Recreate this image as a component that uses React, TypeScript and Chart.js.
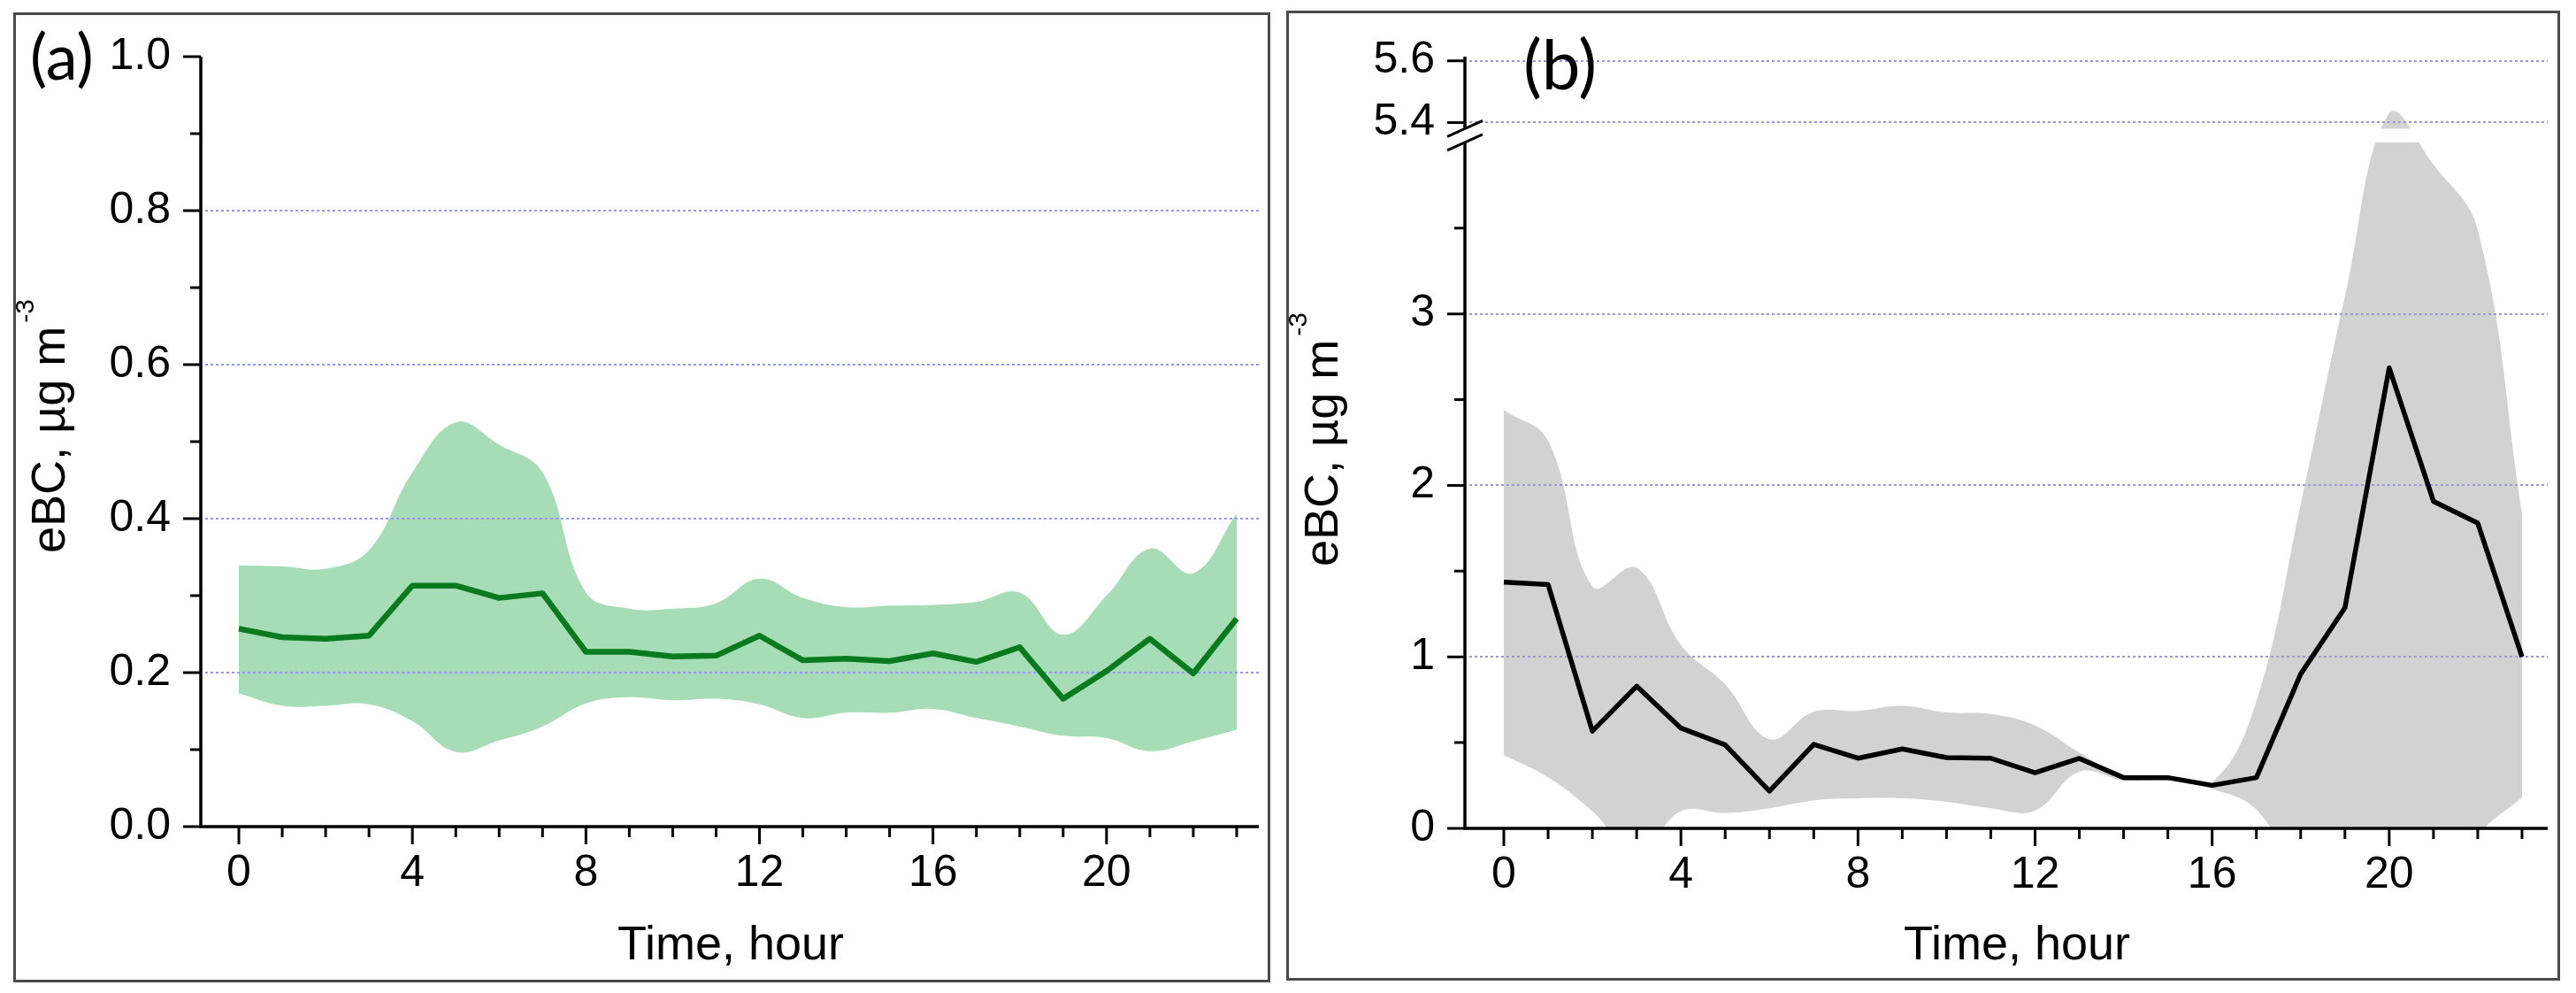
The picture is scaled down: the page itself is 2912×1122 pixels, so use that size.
import { useEffect, useRef } from "react"
import { Chart, LinearScale, registerables } from "chart.js"

Chart.register(...registerables)

// ---- data ----
const hours = [0, 1, 2, 3, 4, 5, 6, 7, 8, 9, 10, 11, 12, 13, 14, 15, 16, 17, 18, 19, 20, 21, 22, 23]

// panel (a)
const meanA = [0.257, 0.246, 0.244, 0.248, 0.313, 0.313, 0.297, 0.303, 0.227, 0.227, 0.221, 0.222,
  0.248, 0.216, 0.218, 0.215, 0.225, 0.214, 0.233, 0.166, 0.202, 0.244, 0.199, 0.270]
const upperA = [0.339, 0.338, 0.335, 0.359, 0.46, 0.525, 0.496, 0.46, 0.304, 0.283, 0.283, 0.29,
  0.322, 0.297, 0.285, 0.287, 0.288, 0.292, 0.304, 0.249, 0.30, 0.361, 0.329, 0.407]
const lowerA = [0.173, 0.157, 0.157, 0.159, 0.137, 0.097, 0.112, 0.13, 0.16, 0.168, 0.164, 0.166,
  0.159, 0.141, 0.148, 0.148, 0.153, 0.141, 0.130, 0.118, 0.115, 0.098, 0.111, 0.126]
const yTicksA = [0, 0.2, 0.4, 0.6, 0.8, 1.0]
const yMinorA = [0.1, 0.3, 0.5, 0.7, 0.9]
const gridA = [0.2, 0.4, 0.6, 0.8]

// panel (b)
const meanB = [1.436, 1.422, 0.567, 0.829, 0.585, 0.487, 0.217, 0.49, 0.409, 0.463, 0.413, 0.409,
  0.325, 0.408, 0.296, 0.296, 0.251, 0.296, 0.90, 1.286, 2.685, 1.907, 1.78, 1.0]
const upperB = [2.44, 2.26, 1.41, 1.52, 1.07, 0.84, 0.52, 0.68, 0.685, 0.715, 0.676, 0.667,
  0.60, 0.443, 0.31, 0.30, 0.27, 0.74, 1.89, 3.10, 5.43, 3.87, 3.49, 1.84]
const lowerB = [0.427, 0.298, 0.10, -0.15, 0.10, 0.09, 0.118, 0.163, 0.175, 0.175, 0.155, 0.118,
  0.103, 0.33, 0.28, 0.28, 0.23, 0.11, -0.3, -0.6, -0.7, -0.6, -0.05, 0.18]
const yTicksB = [0, 1, 2, 3, 5.4, 5.6]
const yMinorB = [0.5, 1.5, 2.5, 3.5]
const gridB = [1, 2, 3, 5.4, 5.6]

const xTicks = [0, 4, 8, 12, 16, 20]

// ---- broken y axis for panel (b) ----
const LOW_TOP = 4.0
const HIGH_BOTTOM = 5.38
const GAP = 0.08
const HIGH_STRETCH = 1.8

function toVirtual(v: number) {
  if (v <= LOW_TOP) return v
  if (v < HIGH_BOTTOM) return LOW_TOP + ((v - LOW_TOP) / (HIGH_BOTTOM - LOW_TOP)) * GAP
  return LOW_TOP + GAP + (v - HIGH_BOTTOM) * HIGH_STRETCH
}

function fromVirtual(u: number) {
  if (u <= LOW_TOP) return u
  if (u < LOW_TOP + GAP) return LOW_TOP + ((u - LOW_TOP) / GAP) * (HIGH_BOTTOM - LOW_TOP)
  return HIGH_BOTTOM + (u - LOW_TOP - GAP) / HIGH_STRETCH
}

class BrokenLinearScale extends LinearScale {
  static id = "brokenLinear"
  getPixelForValue(value: any) {
    return super.getPixelForValue(value == null ? value : toVirtual(value))
  }
  getValueForPixel(pixel: number) {
    return fromVirtual(super.getValueForPixel(pixel) as number)
  }
}
Chart.register(BrokenLinearScale)

const FONT = '"Liberation Sans", Arial, sans-serif'
const GRID_COLOR = "rgb(150, 150, 235)"

interface PanelSpec {
  left: number
  width: number
  mean: number[]
  upper: number[]
  lower: number[]
  lineColor: string
  lineWidth: number
  bandColor: string
  xMin: number
  xMax: number
  yMin: number
  yMax: number
  yTicks: number[]
  yMinor: number[]
  grid: number[]
  broken: boolean
  yFormat: (v: number) => string
  padding: { top: number; right: number }
  yAxisWidth: number
  xAxisHeight: number
  label: string
  labelSize: number
  labelX: number
  labelY: number
  yTitleX: number
  yTitleY: number
  xTitleX: number
  xTitleY: number
}

function makeDecor(spec: PanelSpec) {
  return {
    id: "decor",
    afterDatasetDraw(chart: any, args: any) {
      if (args.index !== 1) return
      const { ctx, chartArea } = chart
      const y = chart.scales.y
      ctx.save()
      if (spec.broken) {
        const top = y.getPixelForValue(HIGH_BOTTOM)
        const bottom = y.getPixelForValue(LOW_TOP)
        ctx.fillStyle = "#ffffff"
        ctx.fillRect(chartArea.left + 2, top, chartArea.right - chartArea.left, bottom - top)
      }
      ctx.strokeStyle = GRID_COLOR
      ctx.lineWidth = 2
      ctx.setLineDash([3, 3])
      spec.grid.forEach((v) => {
        const py = Math.round(y.getPixelForValue(v))
        ctx.beginPath()
        ctx.moveTo(chartArea.left + 5, py)
        ctx.lineTo(chartArea.right, py)
        ctx.stroke()
      })
      ctx.restore()
    },
    afterDraw(chart: any) {
      const { ctx, chartArea } = chart
      const x = chart.scales.x
      const y = chart.scales.y
      const ax = chartArea.left
      const ay = chartArea.bottom
      ctx.save()
      ctx.strokeStyle = "#000"
      ctx.lineWidth = 3.5
      ctx.lineCap = "butt"

      // axis lines
      ctx.beginPath()
      ctx.moveTo(ax - 1.5, ay)
      ctx.lineTo(chartArea.right, ay)
      if (spec.broken) {
        ctx.moveTo(ax, ay)
        ctx.lineTo(ax, y.getPixelForValue(LOW_TOP))
        ctx.moveTo(ax, y.getPixelForValue(HIGH_BOTTOM))
        ctx.lineTo(ax, chartArea.top)
      } else {
        ctx.moveTo(ax, ay)
        ctx.lineTo(ax, chartArea.top)
      }
      ctx.stroke()

      // tick marks
      ctx.lineWidth = 3
      ctx.beginPath()
      spec.yTicks.forEach((v) => {
        const py = y.getPixelForValue(v)
        ctx.moveTo(ax - 20, py)
        ctx.lineTo(ax, py)
      })
      spec.yMinor.forEach((v) => {
        const py = y.getPixelForValue(v)
        ctx.moveTo(ax - 12, py)
        ctx.lineTo(ax, py)
      })
      hours.forEach((h) => {
        const px = x.getPixelForValue(h)
        const len = xTicks.includes(h) ? 20 : 12
        ctx.moveTo(px, ay)
        ctx.lineTo(px, ay + len)
      })
      ctx.stroke()

      // break marks
      if (spec.broken) {
        ctx.beginPath()
        ;[HIGH_BOTTOM, LOW_TOP].forEach((v) => {
          const c = y.getPixelForValue(v)
          ctx.moveTo(ax - 20, c + 9)
          ctx.lineTo(ax + 20, c - 9)
        })
        ctx.stroke()
      }

      // texts
      ctx.fillStyle = "#000"
      ctx.textBaseline = "alphabetic"
      ctx.textAlign = "left"
      ctx.font = `${spec.labelSize}px Lato, "Open Sans", sans-serif`
      ctx.fillText(spec.label, spec.labelX, spec.labelY)

      ctx.font = `54px ${FONT}`
      ctx.textAlign = "center"
      ctx.fillText("Time, hour", spec.xTitleX, spec.xTitleY)

      ctx.save()
      ctx.translate(spec.yTitleX, spec.yTitleY)
      ctx.rotate(-Math.PI / 2)
      ctx.textAlign = "left"
      ctx.font = `54px ${FONT}`
      const main = "eBC, µg m"
      ctx.fillText(main, 0, 0)
      const w = ctx.measureText(main).width
      ctx.font = `30px ${FONT}`
      ctx.fillText("-3", w + 4, -35)
      ctx.restore()

      ctx.restore()
    },
  }
}

function Panel({ spec }: { spec: PanelSpec }) {
  const chartRef = useRef<HTMLCanvasElement>(null)

  useEffect(() => {
    if (!chartRef.current) return
    const pts = (vals: number[]) => hours.map((h, i) => ({ x: h, y: vals[i] }))

    const chart = new Chart(chartRef.current, {
      type: "line",
      data: {
        datasets: [
          {
            data: pts(spec.mean),
            borderColor: spec.lineColor,
            borderWidth: spec.lineWidth,
            borderJoinStyle: "round",
            tension: 0,
            pointRadius: 0,
            fill: false,
          },
          {
            data: pts(spec.upper),
            borderColor: "rgba(0,0,0,0)",
            borderWidth: 0,
            backgroundColor: spec.bandColor,
            tension: 0.4,
            pointRadius: 0,
            fill: "+1",
          },
          {
            data: pts(spec.lower),
            borderColor: "rgba(0,0,0,0)",
            borderWidth: 0,
            tension: 0.4,
            pointRadius: 0,
            fill: false,
          },
        ],
      },
      options: {
        responsive: true,
        maintainAspectRatio: false,
        animation: false,
        layout: { padding: { left: 0, top: spec.padding.top, right: spec.padding.right, bottom: 0 } },
        elements: { line: { capBezierPoints: false } },
        plugins: { legend: { display: false }, tooltip: { enabled: false } },
        scales: {
          x: {
            type: "linear",
            min: spec.xMin,
            max: spec.xMax,
            grid: { display: false, drawTicks: false },
            border: { display: false },
            afterBuildTicks: (s: any) => {
              s.ticks = xTicks.map((v) => ({ value: v }))
            },
            afterFit: (s: any) => {
              s.height = spec.xAxisHeight
            },
            ticks: {
              color: "#000",
              font: { family: FONT, size: 50 },
              padding: 23,
              autoSkip: false,
              maxRotation: 0,
              callback: (v: any) => String(v),
            },
          },
          y: {
            type: spec.broken ? "brokenLinear" : "linear",
            min: spec.yMin,
            max: spec.yMax,
            grid: { display: false, drawTicks: false },
            border: { display: false },
            afterBuildTicks: (s: any) => {
              s.ticks = spec.yTicks.map((v) => ({ value: v }))
            },
            afterFit: (s: any) => {
              s.width = spec.yAxisWidth
            },
            ticks: {
              color: "#000",
              font: { family: FONT, size: 50 },
              padding: 34,
              autoSkip: false,
              callback: (v: any) => spec.yFormat(Number(v)),
            },
          },
        } as any,
      },
      plugins: [makeDecor(spec)],
    })

    return () => {
      chart.destroy()
    }
  }, [spec])

  return (
    <div style={{ position: "absolute", left: spec.left, top: 0, width: spec.width, height: 1122 }}>
      <canvas ref={chartRef} />
    </div>
  )
}

const panelA: PanelSpec = {
  left: 0,
  width: 1452,
  mean: meanA,
  upper: upperA,
  lower: lowerA,
  lineColor: "#0a7a1e",
  lineWidth: 6.5,
  bandColor: "rgb(166, 221, 183)",
  xMin: -0.877,
  xMax: 23.51,
  yMin: 0,
  yMax: 1,
  yTicks: yTicksA,
  yMinor: yMinorA,
  grid: gridA,
  broken: false,
  yFormat: (v) => v.toFixed(1),
  padding: { top: 56, right: 29 },
  yAxisWidth: 227,
  xAxisHeight: 188,
  label: "(a)",
  labelSize: 72,
  labelX: 34,
  labelY: 90,
  yTitleX: 73,
  yTitleY: 625,
  xTitleX: 826,
  xTitleY: 1084,
}

const panelB: PanelSpec = {
  left: 1452,
  width: 1460,
  mean: meanB,
  upper: upperB,
  lower: lowerB,
  lineColor: "#000000",
  lineWidth: 5.5,
  bandColor: "rgb(210, 210, 210)",
  xMin: -0.879,
  xMax: 23.58,
  yMin: 0,
  yMax: 4.5,
  yTicks: yTicksB,
  yMinor: yMinorB,
  grid: gridB,
  broken: true,
  yFormat: (v) => (v > 4 ? v.toFixed(1) : String(v)),
  padding: { top: 42, right: 32 },
  yAxisWidth: 204,
  xAxisHeight: 186,
  label: "(b)",
  labelSize: 78,
  labelX: 270,
  labelY: 101,
  yTitleX: 60,
  yTitleY: 640,
  xTitleX: 828,
  xTitleY: 1084,
}

export default function App() {
  return (
    <div style={{ position: "absolute", left: 0, top: 0, width: 2912, height: 1122, background: "#fff" }}>
      <div
        style={{
          position: "absolute",
          left: 15,
          top: 14,
          width: 1421,
          height: 1096,
          border: "3px solid #4a4a4a",
          boxSizing: "border-box",
        }}
      />
      <div
        style={{
          position: "absolute",
          left: 1454,
          top: 12,
          width: 1440,
          height: 1096,
          border: "3px solid #4a4a4a",
          boxSizing: "border-box",
        }}
      />
      <Panel spec={panelA} />
      <Panel spec={panelB} />
    </div>
  )
}
